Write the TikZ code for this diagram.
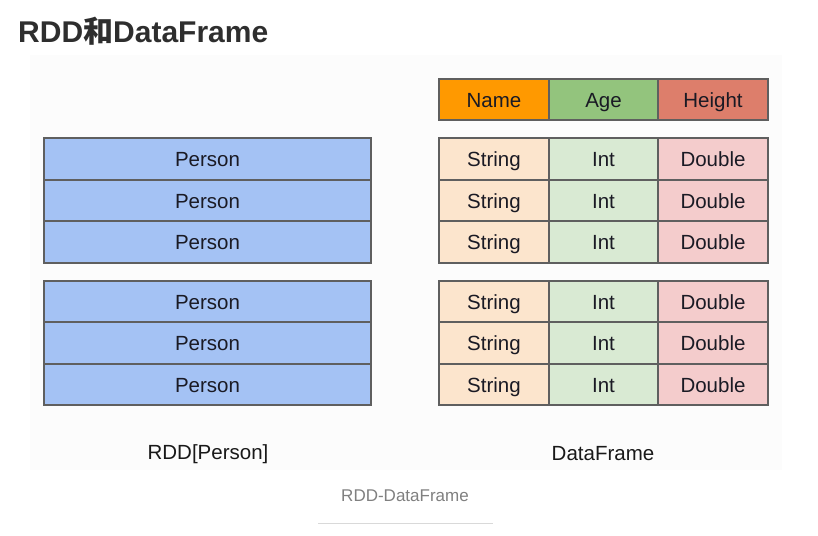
\documentclass[tikz,border=0pt]{standalone}
\usepackage{fontspec}
\setmainfont{Liberation Sans}
\newfontfamily\cjk{Noto Sans CJK SC}
\begin{document}
\begin{tikzpicture}[x=1pt,y=-1pt,
  cell/.style={draw=bordergray,line width=2.2pt,minimum height=41.5pt,inner sep=0pt,text height=17pt,text depth=1.6pt,font=\fontsize{20.5}{24}\selectfont,text=textdark},
  person/.style={cell,fill=personblue,minimum width=327pt},
  col/.style={cell,minimum width=109.5pt},
  lbl/.style={font=\fontsize{20.5}{24}\selectfont,text=black!90}]
\definecolor{bordergray}{HTML}{5F5F5F}
\definecolor{textdark}{HTML}{1A1A24}
\definecolor{personblue}{HTML}{A4C2F4}
\definecolor{nameorange}{HTML}{FF9900}
\definecolor{agegreen}{HTML}{93C47D}
\definecolor{heightred}{HTML}{DD7E6B}
\definecolor{strcol}{HTML}{FCE5CD}
\definecolor{intcol}{HTML}{D9EAD3}
\definecolor{dblcol}{HTML}{F4CCCC}
\useasboundingbox (0,0) rectangle (818,535);
\fill[white] (0,0) rectangle (818,535);
\fill[black!1] (30,55) rectangle (782,470);
% title
\node[anchor=west,inner sep=0pt,font=\fontsize{30}{34}\selectfont\bfseries,text=black!82] (title) at (18,31) {RDD{\cjk 和}DataFrame};
% RDD boxes
\foreach \i/\y in {1/159,2/200.5,3/242,4/301.5,5/343,6/384.5}{
  \node[person] (p\i) at (207.5,\y) {Person};
}
% header
\node[col,fill=nameorange] (hname) at (494,99.5) {Name};
\node[col,fill=agegreen] (hage) at (603.5,99.5) {Age};
\node[col,fill=heightred] (hheight) at (713,99.5) {Height};
% rows
\foreach \i/\y in {1/159,2/200.5,3/242,4/301.5,5/343,6/384.5}{
  \node[col,fill=strcol] (s\i) at (494,\y) {String};
  \node[col,fill=intcol] (n\i) at (603.5,\y) {Int};
  \node[col,fill=dblcol] (d\i) at (713,\y) {Double};
}
\node[lbl] (lrdd) at (208,454) {RDD[Person]};
\node[lbl] (ldf) at (603,454) {DataFrame};
\node[font=\fontsize{17}{20}\selectfont,text=black!50] (cap) at (405,496) {RDD-DataFrame};
\coordinate (la) at (318,523);
\coordinate (lb) at (493,523);
\draw[black!15,line width=1pt] (la) -- (lb);
\end{tikzpicture}
\end{document}
